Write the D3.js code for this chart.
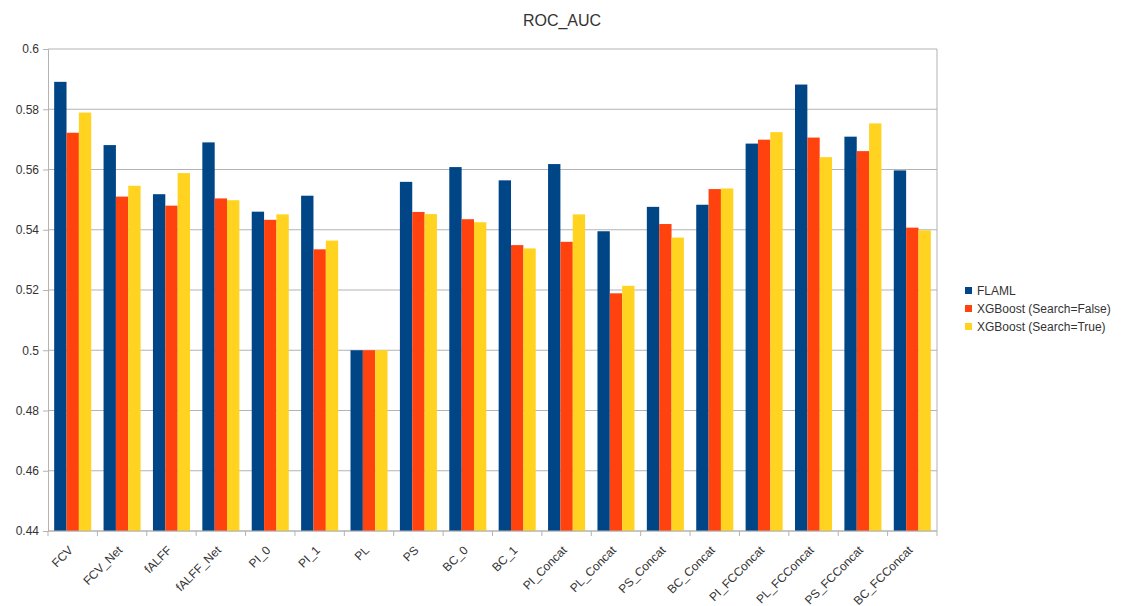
<!DOCTYPE html>
<html>
<head>
<meta charset="utf-8">
<script src="https://cdn.jsdelivr.net/npm/d3@7/dist/d3.min.js"></script>
<style>
  html, body { margin: 0; padding: 0; background: #fff; }
  svg { display: block; font-family: "Liberation Sans", Arial, sans-serif; }
</style>
</head>
<body>
<svg id="chart" width="1124" height="606"></svg>
<script>
// Feature sets on the x axis
const categories = ["FCV", "FCV_Net", "fALFF", "fALFF_Net", "PI_0", "PI_1", "PL", "PS", "BC_0", "BC_1",
  "PI_Concat", "PL_Concat", "PS_Concat", "BC_Concat", "PI_FCConcat", "PL_FCConcat", "PS_FCConcat", "BC_FCConcat"];

// ROC AUC per model
const flaml = [0.5891, 0.5681, 0.5518, 0.5690, 0.5460, 0.5513, 0.5000, 0.5559, 0.5608, 0.5564,
  0.5618, 0.5395, 0.5476, 0.5483, 0.5686, 0.5882, 0.5709, 0.5597];
const xgbNoSearch = [0.5722, 0.5510, 0.5480, 0.5504, 0.5433, 0.5335, 0.5000, 0.5459, 0.5435, 0.5349,
  0.5360, 0.5189, 0.5419, 0.5535, 0.5699, 0.5706, 0.5661, 0.5407];
const xgbSearch = [0.5789, 0.5546, 0.5588, 0.5498, 0.5451, 0.5364, 0.5000, 0.5452, 0.5425, 0.5338,
  0.5451, 0.5214, 0.5374, 0.5537, 0.5724, 0.5641, 0.5753, 0.5398];

const seriesNames = ["FLAML", "XGBoost (Search=False)", "XGBoost (Search=True)"];
const seriesValues = [flaml, xgbNoSearch, xgbSearch];
const colors = ["#004586", "#ff420e", "#ffd320"];

const yTicks = [0.44, 0.46, 0.48, 0.5, 0.52, 0.54, 0.56, 0.58, 0.6];

const svg = d3.select("#chart");
const plot = { left: 48, right: 937, top: 49, bottom: 531 };

const x = d3.scaleBand().domain(categories).range([plot.left, plot.right]).paddingInner(0).paddingOuter(0);
const inner = d3.scaleBand().domain(d3.range(seriesNames.length))
  .range([0, x.bandwidth()]).paddingInner(0).paddingOuter(0.5);
const y = d3.scaleLinear().domain([0.44, 0.6]).range([plot.bottom, plot.top]);

// Title
svg.append("text")
  .attr("x", 562).attr("y", 26)
  .attr("text-anchor", "middle")
  .attr("font-size", 16).attr("fill", "#333")
  .text("ROC_AUC");

// Horizontal gridlines
svg.append("g").selectAll("line").data(yTicks).join("line")
  .attr("x1", plot.left).attr("x2", plot.right)
  .attr("y1", d => y(d)).attr("y2", d => y(d))
  .attr("stroke", "#b3b3b3").attr("stroke-width", 1);

// Right border of the plot area
svg.append("line")
  .attr("x1", plot.right).attr("x2", plot.right)
  .attr("y1", plot.top).attr("y2", plot.bottom)
  .attr("stroke", "#b3b3b3");

// Bars
const groups = svg.append("g").selectAll("g").data(categories).join("g")
  .attr("transform", d => `translate(${x(d)},0)`);
groups.selectAll("rect")
  .data((d, i) => seriesValues.map((vals, s) => ({ s, v: vals[i] })))
  .join("rect")
  .attr("x", d => inner(d.s))
  .attr("width", inner.bandwidth())
  .attr("y", d => y(d.v))
  .attr("height", d => y(0.44) - y(d.v))
  .attr("fill", d => colors[d.s]);

// Y axis
const yAxis = d3.axisLeft(y).tickValues(yTicks).tickSize(5).tickPadding(4)
  .tickFormat(d => d3.format("")(+d.toFixed(2)));
const gy = svg.append("g").attr("transform", `translate(${plot.left},0)`).call(yAxis);
gy.select(".domain").attr("stroke", "#b3b3b3");
gy.selectAll(".tick line").attr("stroke", "#b3b3b3");
gy.selectAll(".tick text").attr("font-size", 12).attr("fill", "#333")
  .attr("font-family", "Liberation Sans, Arial, sans-serif");

// X axis: tick marks sit on the category boundaries
const gx = svg.append("g").attr("transform", `translate(0,${plot.bottom})`);
gx.append("line").attr("x1", plot.left).attr("x2", plot.right)
  .attr("stroke", "#b3b3b3");
const boundaries = categories.map(c => x(c)).concat([plot.right]);
gx.selectAll("line.tk").data(boundaries).join("line").attr("class", "tk")
  .attr("x1", d => d).attr("x2", d => d).attr("y1", 0).attr("y2", 5)
  .attr("stroke", "#b3b3b3");
gx.selectAll("text").data(categories).join("text")
  .attr("transform", d => `translate(${x(d) + x.bandwidth() / 2 - 2},${17}) rotate(-45)`)
  .attr("text-anchor", "end")
  .attr("font-size", 12).attr("fill", "#333")
  .attr("dy", "0.35em")
  .text(d => d);

// Legend
const legend = svg.append("g").attr("transform", "translate(965,291)");
const items = legend.selectAll("g").data(seriesNames).join("g")
  .attr("transform", (d, i) => `translate(0,${i * 18})`);
items.append("rect").attr("x", 0).attr("y", -4).attr("width", 7).attr("height", 7)
  .attr("fill", (d, i) => colors[i]);
items.append("text").attr("x", 12).attr("y", 0).attr("dy", "0.35em")
  .attr("font-size", 12).attr("fill", "#333")
  .text(d => d);
</script>
</body>
</html>
